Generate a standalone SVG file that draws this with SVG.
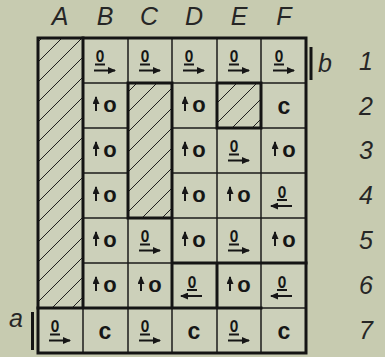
<svg xmlns="http://www.w3.org/2000/svg" width="385" height="357" viewBox="0 0 385 357">
<defs>
<style>
.thin{stroke:#1b1b1b;stroke-width:1.5;fill:none}
.thick{stroke:#141414;stroke-width:3;fill:none;stroke-linecap:square}
.lab{font-family:"Liberation Sans",Arial,sans-serif;font-style:italic;font-size:25px;fill:#262626;text-anchor:middle}
.o{font-family:"Liberation Sans",Arial,sans-serif;font-weight:bold;font-size:22px;fill:#161616;text-anchor:middle}
.c{font-family:"Liberation Sans",Arial,sans-serif;font-weight:bold;font-size:23px;fill:#161616;text-anchor:middle}
.ul{stroke:#161616;stroke-width:2}
.ar{stroke:#161616;stroke-width:2;marker-end:url(#head)}
</style>
<marker id="head" markerUnits="userSpaceOnUse" markerWidth="8" markerHeight="7" viewBox="0 0 8 7" refX="7" refY="3.5" orient="auto">
<path d="M0,0 L8,3.5 L0,7 z" fill="#161616"/>
</marker>
<pattern id="hatch" patternUnits="userSpaceOnUse" width="20" height="20">
<path d="M-5,5 L5,-5 M0,20 L20,0 M15,25 L25,15" stroke="#1e1e1e" stroke-width="1"/>
</pattern>
</defs>
<rect width="385" height="357" fill="#c7cbb0"/>
<rect x="38" y="38" width="268" height="315" fill="#ccd0ba"/>

<g id="hatched">
<rect x="38" y="38" width="45" height="270" fill="url(#hatch)"/>
<rect x="128" y="83" width="44" height="135" fill="url(#hatch)"/>
<rect x="217" y="83" width="44" height="45" fill="url(#hatch)"/>
</g>

<g id="gridlines">
<path class="thin" d="M83,83H128 M172,83H217 M261,83H306 M83,128H128 M172,128H217 M261,128H306 M83,173H128 M172,173H306 M83,218H128 M172,218H306 M83,263H172 M261,308H306 M128,38V83 M128,218V353 M172,38V83 M172,308V353 M217,38V83 M217,128V263 M217,308V353 M261,38V83 M261,128V353 M83,308V353"/>
<path class="thick" d="M83,38V308 M38,308H261 M128,83V218 M172,83V308 M128,83H172 M128,218H172 M217,83H261V128H217Z M217,263V308 M172,263H306"/>
<rect class="thick" x="38" y="38" width="268" height="315"/>
</g>

<g id="labels">
<text class="lab" x="60" y="25">A</text>
<text class="lab" x="105" y="25">B</text>
<text class="lab" x="149" y="25">C</text>
<text class="lab" x="194" y="25">D</text>
<text class="lab" x="239" y="25">E</text>
<text class="lab" x="284" y="25">F</text>
<text class="lab" x="366" y="70">1</text>
<text class="lab" x="366" y="115">2</text>
<text class="lab" x="366" y="159">3</text>
<text class="lab" x="366" y="204">4</text>
<text class="lab" x="366" y="249">5</text>
<text class="lab" x="366" y="294">6</text>
<text class="lab" x="366" y="339">7</text>
<text class="lab" x="325" y="72" font-size="22">b</text>
<path d="M311,47V80" stroke="#141414" stroke-width="3"/>
<text class="lab" x="16" y="327" font-size="22">a</text>
<path d="M32.5,312V350" stroke="#141414" stroke-width="3"/>
</g>

<!-- row 1 -->
<g id="B1"><text class="o" x="100" y="61.5" textLength="8.5" lengthAdjust="spacingAndGlyphs">o</text><path class="ul" d="M95,64.5H105"/><path class="ar" d="M94,70.5H115"/></g>
<g id="C1"><text class="o" x="145" y="61.5" textLength="8.5" lengthAdjust="spacingAndGlyphs">o</text><path class="ul" d="M140,64.5H150"/><path class="ar" d="M139,70.5H160"/></g>
<g id="D1"><text class="o" x="189" y="61.5" textLength="8.5" lengthAdjust="spacingAndGlyphs">o</text><path class="ul" d="M184,64.5H194"/><path class="ar" d="M183,70.5H204"/></g>
<g id="E1"><text class="o" x="234" y="61.5" textLength="8.5" lengthAdjust="spacingAndGlyphs">o</text><path class="ul" d="M229,64.5H239"/><path class="ar" d="M228,70.5H249"/></g>
<g id="F1"><text class="o" x="279" y="61.5" textLength="8.5" lengthAdjust="spacingAndGlyphs">o</text><path class="ul" d="M274,64.5H284"/><path class="ar" d="M273,70.5H294"/></g>

<!-- row 2 -->
<g id="B2"><path class="ar" d="M96,111V97"/><text class="o" x="110" y="111.5">o</text></g>
<g id="D2"><path class="ar" d="M185,111V97"/><text class="o" x="199" y="111.5">o</text></g>
<g id="F2"><text class="c" x="284" y="113.5">c</text></g>

<!-- row 3 -->
<g id="B3"><path class="ar" d="M96,156V142"/><text class="o" x="110" y="156.5">o</text></g>
<g id="D3"><path class="ar" d="M185,156V142"/><text class="o" x="199" y="156.5">o</text></g>
<g id="E3"><text class="o" x="234" y="151.5" textLength="8.5" lengthAdjust="spacingAndGlyphs">o</text><path class="ul" d="M229,154.5H239"/><path class="ar" d="M228,160.5H249"/></g>
<g id="F3"><path class="ar" d="M275,156V142"/><text class="o" x="289" y="156.5">o</text></g>

<!-- row 4 -->
<g id="B4"><path class="ar" d="M96,201V187"/><text class="o" x="110" y="201.5">o</text></g>
<g id="D4"><path class="ar" d="M185,201V187"/><text class="o" x="199" y="201.5">o</text></g>
<g id="E4"><path class="ar" d="M230,201V187"/><text class="o" x="244" y="201.5">o</text></g>
<g id="F4"><text class="o" x="282" y="197.5" textLength="8.5" lengthAdjust="spacingAndGlyphs">o</text><path class="ul" d="M277,200H287"/><path class="ar" d="M292,206H271"/></g>

<!-- row 5 -->
<g id="B5"><path class="ar" d="M96,246V232"/><text class="o" x="110" y="246.5">o</text></g>
<g id="C5"><text class="o" x="145" y="241.5" textLength="8.5" lengthAdjust="spacingAndGlyphs">o</text><path class="ul" d="M140,244.5H150"/><path class="ar" d="M139,250.5H160"/></g>
<g id="D5"><path class="ar" d="M185,246V232"/><text class="o" x="199" y="246.5">o</text></g>
<g id="E5"><text class="o" x="234" y="241.5" textLength="8.5" lengthAdjust="spacingAndGlyphs">o</text><path class="ul" d="M229,244.5H239"/><path class="ar" d="M228,250.5H249"/></g>
<g id="F5"><path class="ar" d="M275,246V232"/><text class="o" x="289" y="246.5">o</text></g>

<!-- row 6 -->
<g id="B6"><path class="ar" d="M96,291V277"/><text class="o" x="110" y="291.5">o</text></g>
<g id="C6"><path class="ar" d="M141,291V277"/><text class="o" x="155" y="291.5">o</text></g>
<g id="D6"><text class="o" x="192" y="287.5" textLength="8.5" lengthAdjust="spacingAndGlyphs">o</text><path class="ul" d="M187,290H197"/><path class="ar" d="M202,296H181"/></g>
<g id="E6"><path class="ar" d="M230,291V277"/><text class="o" x="244" y="291.5">o</text></g>
<g id="F6"><text class="o" x="282" y="287.5" textLength="8.5" lengthAdjust="spacingAndGlyphs">o</text><path class="ul" d="M277,290H287"/><path class="ar" d="M292,296H271"/></g>

<!-- row 7 -->
<g id="A7"><text class="o" x="55" y="331.5" textLength="8.5" lengthAdjust="spacingAndGlyphs">o</text><path class="ul" d="M50,334.5H60"/><path class="ar" d="M49,340.5H70"/></g>
<g id="B7"><text class="c" x="105" y="338.5">c</text></g>
<g id="C7"><text class="o" x="145" y="331.5" textLength="8.5" lengthAdjust="spacingAndGlyphs">o</text><path class="ul" d="M140,334.5H150"/><path class="ar" d="M139,340.5H160"/></g>
<g id="D7"><text class="c" x="194" y="338.5">c</text></g>
<g id="E7"><text class="o" x="234" y="331.5" textLength="8.5" lengthAdjust="spacingAndGlyphs">o</text><path class="ul" d="M229,334.5H239"/><path class="ar" d="M228,340.5H249"/></g>
<g id="F7"><text class="c" x="284" y="338.5">c</text></g>
</svg>
